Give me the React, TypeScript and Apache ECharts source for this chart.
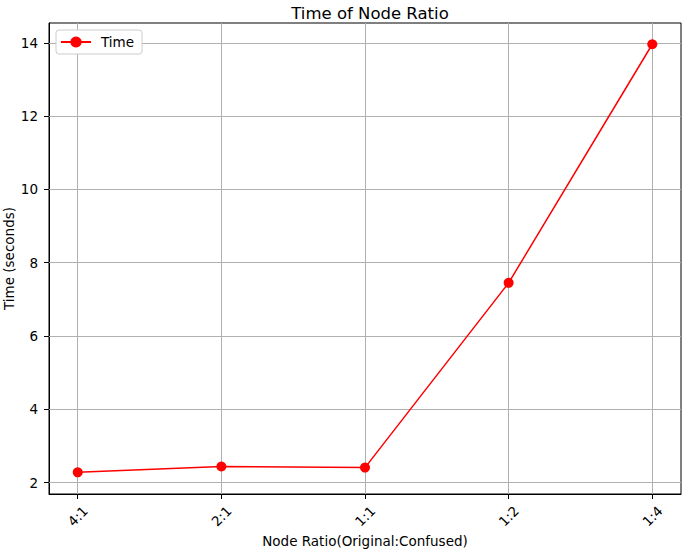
import React, { useEffect, useRef } from "react";
import * as echarts from "echarts";

const categories = ["4:1", "2:1", "1:1", "1:2", "1:4"];
const timeValues = [2.28, 2.44, 2.41, 7.45, 13.96];
const yTicks = [2, 4, 6, 8, 10, 12, 14];
const xTicks = [0, 1, 2, 3, 4];

export default function App() {
  const ref = useRef<HTMLDivElement>(null);
  useEffect(() => {
    if (!ref.current) return;
    const chart = echarts.init(ref.current, null, { renderer: "svg" });
    const font = "DejaVu Sans";
    const fs = 13.5;
    chart.setOption({
      animation: false,
      backgroundColor: "#ffffff",
      textStyle: { fontFamily: font },
      title: {
        text: "Time of Node Ratio",
        left: 365,
        textAlign: "center",
        top: 0,
        textStyle: { fontFamily: font, fontSize: 16.5, fontWeight: "normal", color: "#000" },
      },
      legend: {
        left: 56,
        top: 30,
        orient: "vertical",
        backgroundColor: "#ffffff",
        borderColor: "#cccccc",
        borderWidth: 1,
        borderRadius: 3,
        padding: [5, 8, 5, 4],
        itemWidth: 30,
        itemHeight: 14,
        itemGap: 6,
        textStyle: { fontFamily: font, fontSize: fs, color: "#000", padding: [0, 0, 0, 5] },
        data: ["Time"],
      },
      grid: {
        left: 49,
        top: 23,
        right: 4,
        bottom: 58,
        show: true,
        borderColor: "#000",
        borderWidth: 1,
        backgroundColor: "transparent",
        containLabel: false,
        outerBoundsMode: "none",
      },
      xAxis: {
        type: "value",
        min: -0.2,
        max: 4.2,
        name: "Node Ratio(Original:Confused)",
        nameLocation: "middle",
        nameGap: 40,
        nameMoveOverlap: false,
        nameTextStyle: { fontFamily: font, fontSize: fs, color: "#000" },
        axisLine: { show: true, onZero: false, lineStyle: { color: "#000", width: 1 } },
        axisTick: { show: true, length: 5, customValues: xTicks, lineStyle: { color: "#000" } },
        axisLabel: {
          customValues: xTicks,
          rotate: 45,
          margin: 22,
          align: "center",
          verticalAlign: "middle",
          fontFamily: font,
          fontSize: fs,
          color: "#000",
          formatter: (v: number) => categories[Math.round(v)] ?? "",
        },
        splitLine: { show: false },
      },
      yAxis: {
        type: "value",
        min: 1.69,
        max: 14.54,
        name: "Time (seconds)",
        nameLocation: "middle",
        nameGap: 33,
        nameMoveOverlap: false,
        nameTextStyle: { fontFamily: font, fontSize: fs, color: "#000" },
        axisLine: { show: true, onZero: false, lineStyle: { color: "#000", width: 1 } },
        axisTick: { show: true, length: 5, customValues: yTicks, lineStyle: { color: "#000" } },
        axisLabel: {
          customValues: yTicks,
          margin: 11,
          fontFamily: font,
          fontSize: fs,
          color: "#000",
        },
        splitLine: { show: false },
      },
      series: [
        {
          name: "Time",
          type: "line",
          data: timeValues.map((v, i) => [i, v]),
          color: "#ff0000",
          lineStyle: { color: "#ff0000", width: 1.5 },
          itemStyle: { color: "#ff0000" },
          symbol: "circle",
          symbolSize: 10,
          z: 5,
          markLine: {
            silent: true,
            symbol: "none",
            label: { show: false },
            lineStyle: { color: "#b0b0b0", width: 1, type: "solid" },
            z: 1,
            data: [
              ...xTicks.map((v) => ({ xAxis: v })),
              ...yTicks.map((v) => ({ yAxis: v })),
            ],
          },
        },
      ],
    });
    return () => chart.dispose();
  }, []);
  return (
    <div
      ref={ref}
      style={{ position: "fixed", left: 0, top: 0, width: 685, height: 552 }}
    />
  );
}
